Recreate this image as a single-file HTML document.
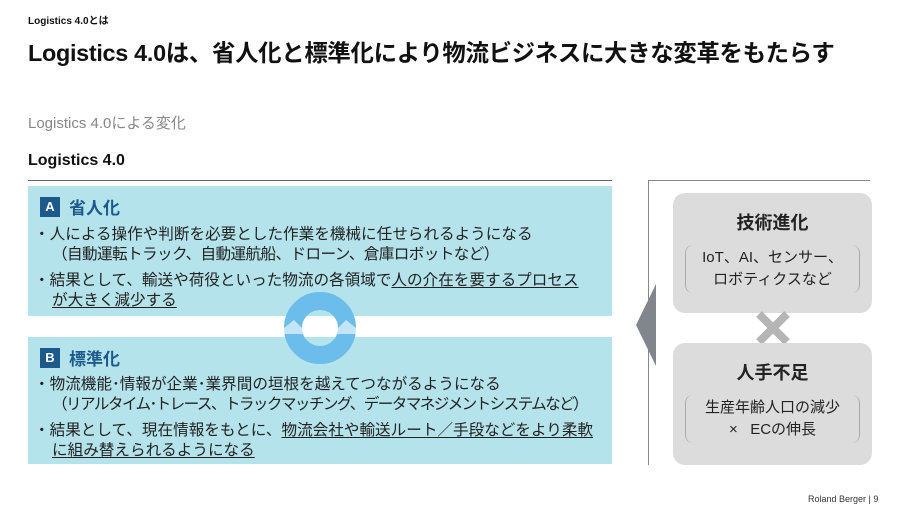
<!DOCTYPE html>
<html><head><meta charset="utf-8"><style>
*{margin:0;padding:0;box-sizing:border-box}
body{width:900px;height:505px;background:#fff;position:relative;overflow:hidden;font-family:"Liberation Sans","Noto Sans CJK JP",sans-serif;color:#111}
.abs{position:absolute;white-space:nowrap}
.box{position:absolute;left:28px;width:584px;background:#b4e3ec}
.hd{position:absolute;left:12px;top:8px;font-size:17px;font-weight:bold;color:#1d5a8c;display:flex;align-items:center}
.hd b{display:inline-block;width:20px;height:20px;background:#1d5a8c;color:#fff;font-size:13px;text-align:center;line-height:20px;margin-right:9px}
.li{position:absolute;left:6px;font-size:15.6px;line-height:20px;color:#222;white-space:nowrap}
.li p{padding-left:18px;text-indent:-18px}
u{text-decoration:underline;text-underline-offset:2px}
.gb{position:absolute;left:673px;width:199px;background:#dcdcdc;border-radius:12px;text-align:center}
.gb h3{font-size:18px;font-weight:bold;margin-top:16px;color:#222}
.br{margin:10px 12px 0;border-left:1.5px solid #aaa;border-right:1.5px solid #aaa;border-radius:8px;font-size:15px;line-height:22px;color:#222;padding:2px 0}
</style></head><body>
<div class="abs" style="left:28px;top:12px;font-size:10px;font-weight:bold">Logistics 4.0とは</div>
<div class="abs" style="left:28px;top:34px;font-size:23.4px;font-weight:bold;letter-spacing:-0.3px">Logistics 4.0は、省人化と標準化により物流ビジネスに大きな変革をもたらす</div>
<div class="abs" style="left:28px;top:112px;font-size:15px;color:#888">Logistics 4.0による変化</div>
<div class="abs" style="left:28px;top:152px;font-size:16px;font-weight:bold">Logistics 4.0</div>
<div class="abs" style="left:28px;top:180px;width:584px;height:1px;background:#666"></div>

<div class="box" style="top:186px;height:130px">
<div class="hd"><b>A</b>省人化</div>
<div class="li" style="top:39px"><p>・人による操作や判断を必要とした作業を機械に任せられるようになる<br><span style="letter-spacing:-0.6px">（自動運転トラック、自動運航船、ドローン、倉庫ロボットなど）</span></p>
<p style="margin-top:6px">・結果として、輸送や荷役といった物流の各領域で<u>人の介在を要するプロセス<br>が大きく減少する</u></p></div>
</div>
<div class="box" style="top:337px;height:127px">
<div class="hd"><b>B</b>標準化</div>
<div class="li" style="top:38px"><p>・物流機能･情報が企業･業界間の垣根を越えてつながるようになる<br><span style="letter-spacing:-1.6px">（リアルタイム･トレース、トラックマッチング、データマネジメントシステムなど）</span></p>
<p style="margin-top:6px">・結果として、現在情報をもとに、<u>物流会社や輸送ルート／手段などをより柔軟<br>に組み替えられるようになる</u></p></div>
</div>
<svg class="abs" style="left:280px;top:288px" width="80" height="80" viewBox="0 0 80 80">
<circle cx="40" cy="40" r="27" fill="none" stroke="#6cbcec" stroke-width="18"/>
<path d="M4 40 L14 32 L24 42 L40 36 L56 42 L66 32 L76 40 L76 46 L4 46Z" fill="#fff" opacity="0.6"/>
</svg>

<div class="abs" style="left:648px;top:180px;width:222px;height:1px;background:#888"></div>
<div class="abs" style="left:648px;top:180px;width:1px;height:285px;background:#888"></div>
<svg class="abs" style="left:636px;top:284px" width="20" height="82"><polygon points="20,0 20,82 0,41" fill="#80868c"/></svg>

<div class="gb" style="top:193px;height:120px"><h3>技術進化</h3><div class="br">IoT、AI、センサー、<br>ロボティクスなど</div></div>
<svg class="abs" style="left:755px;top:310px" width="36" height="36"><path d="M4 4 L32 32 M32 4 L4 32" stroke="#b5b5b5" stroke-width="8"/></svg>
<div class="gb" style="top:343px;height:122px"><h3>人手不足</h3><div class="br">生産年齢人口の減少<br>×&nbsp;&nbsp; ECの伸長</div></div>

<div class="abs" style="left:808px;top:494px;font-size:9px;color:#333">Roland Berger | 9</div>
</body></html>
